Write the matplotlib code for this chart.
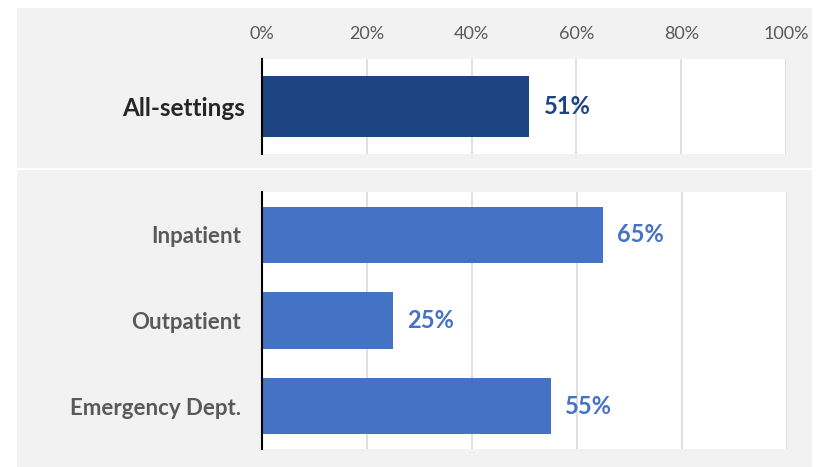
import matplotlib
matplotlib.use('Agg')
import matplotlib.pyplot as plt
from matplotlib.patches import Rectangle

# Data
top_cat = ['All-settings']
top_val = [51]
cats = ['Inpatient', 'Outpatient', 'Emergency Dept.']
vals = [65, 25, 55]
ticks = [0, 20, 40, 60, 80, 100]
tick_labels = ['0%', '20%', '40%', '60%', '80%', '100%']

plt.rcParams['font.family'] = ['Lato', 'DejaVu Sans']

W, H = 817, 467
fig = plt.figure(figsize=(W / 100, H / 100), dpi=100)
fig.patch.set_facecolor('white')

def px_rect(x0, y0, x1, y1):
  'figure-fraction rect from pixel box (top-left origin)'
  return [x0 / W, 1 - y1 / H, (x1 - x0) / W, (y1 - y0) / H]

# gray panels
for x0, y0, x1, y1 in [(17, 8, 812, 168), (17, 170, 812, 467)]:
  l, b, w, h = px_rect(x0, y0, x1, y1)
  fig.add_artist(Rectangle((l, b), w, h, transform=fig.transFigure,
                           facecolor='#f2f2f2', edgecolor='none', zorder=-5))

ax1 = fig.add_axes(px_rect(262, 59, 786, 154))
ax2 = fig.add_axes(px_rect(262, 192, 787, 449))
ax1.set_zorder(2)
ax2.set_zorder(2)

def style(ax, top_ticks):
  ax.set_xlim(0, 100)
  ax.set_xticks(ticks)
  ax.grid(axis='x', color='#d9d9d9', linewidth=1.2, zorder=0)
  ax.set_axisbelow(True)
  for s in ['top', 'right', 'bottom']:
    ax.spines[s].set_visible(False)
  ax.spines['left'].set_color('black')
  ax.spines['left'].set_linewidth(1.5)
  ax.tick_params(axis='both', length=0)
  if top_ticks:
    ax.xaxis.tick_top()
    ax.set_xticklabels(tick_labels, color='#595959', fontsize=13)
    ax.tick_params(axis='x', pad=12)
  else:
    ax.set_xticklabels([])

# top panel
style(ax1, True)
ax1.barh(top_cat, top_val, height=0.65, color='#1c4480', zorder=2)
ax1.set_ylim(-0.5, 0.5)
ax1.set_yticks([0])
ax1.set_yticklabels(top_cat, fontsize=17.5, fontweight='bold', color='#262626')
ax1.tick_params(axis='y', pad=12)
for i, v in enumerate(top_val):
  ax1.text(v + 2.9, i, f'{v}%', va='center', ha='left', fontsize=17,
           fontweight='bold', color='#1c4480')

# bottom panel
style(ax2, False)
ax2.barh(cats, vals, height=0.66, color='#4472c4', zorder=2)
ax2.set_ylim(2.5, -0.5)
ax2.set_yticklabels(cats, fontsize=16, fontweight='bold', color='#595959')
ax2.tick_params(axis='y', pad=15)
for i, v in enumerate(vals):
  ax2.text(v + 2.7, i, f'{v}%', va='center', ha='left', fontsize=17,
           fontweight='bold', color='#4472c4')

fig.savefig('out.png', dpi=100)
